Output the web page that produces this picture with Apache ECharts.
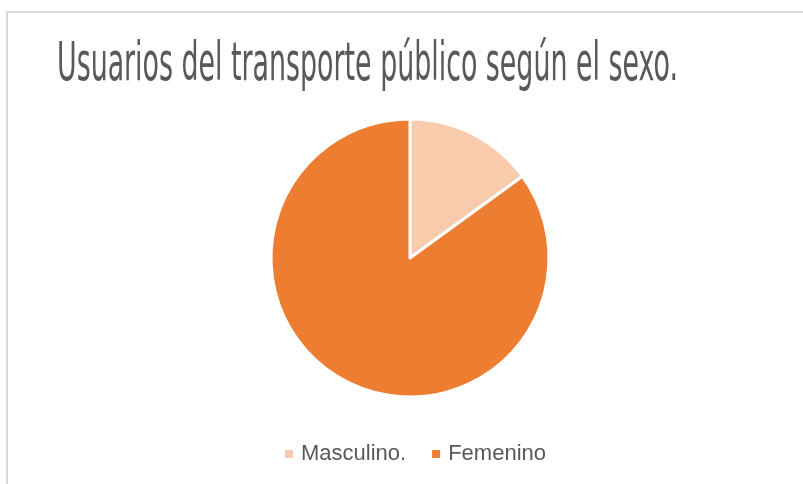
<!DOCTYPE html>
<html>
<head>
<meta charset="utf-8">
<script src="https://cdn.jsdelivr.net/npm/echarts@6/dist/echarts.min.js"></script>
<style>
  html, body { margin: 0; padding: 0; background: #fff; }
  #chart { width: 803px; height: 484px; }
</style>
</head>
<body>
<div id="chart"></div>
<script>
// data
const categories = ['Masculino.', 'Femenino'];
const values = [15, 85];
const colors = ['#F8CBAD', '#ED7D31'];
const titleText = 'Usuarios del transporte público según el sexo.';

// squeeze the title into a condensed look (original uses a narrow display font)
const titleFont = '400 53px "DejaVu Sans"';
const ctx = document.createElement('canvas').getContext('2d');
ctx.font = titleFont;
const titleScale = 621 / ctx.measureText(titleText).width;

let myChart = echarts.init(document.getElementById('chart'));

let option = {
  backgroundColor: '#fff',
  animation: false,
  graphic: [
    {
      type: 'rect',
      shape: { x: 7, y: 12, width: 900, height: 600 },
      style: { fill: 'none', stroke: '#d9d9d9', lineWidth: 2 },
      silent: true
    },
    {
      type: 'text',
      x: 57,
      y: 40,
      scaleX: titleScale,
      style: {
        text: titleText,
        font: titleFont,
        fill: '#595959',
        verticalAlign: 'top'
      }
    }
  ],
  legend: {
    data: categories,
    bottom: 14,
    left: 278,
    itemWidth: 10,
    itemHeight: 10,
    itemGap: 24,
    icon: 'rect',
    textStyle: {
      color: '#595959',
      fontSize: 22,
      fontFamily: 'Liberation Sans',
      padding: [0, 0, 0, 2]
    }
  },
  series: [
    {
      type: 'pie',
      center: [410, 258],
      radius: 139,
      startAngle: 90,
      clockwise: true,
      label: { show: false },
      labelLine: { show: false },
      itemStyle: { borderColor: '#fff', borderWidth: 3 },
      emphasis: { disabled: true },
      data: categories.map((name, i) => ({
        name: name,
        value: values[i],
        itemStyle: { color: colors[i] }
      }))
    }
  ]
};

myChart.setOption(option, true);
</script>
</body>
</html>
